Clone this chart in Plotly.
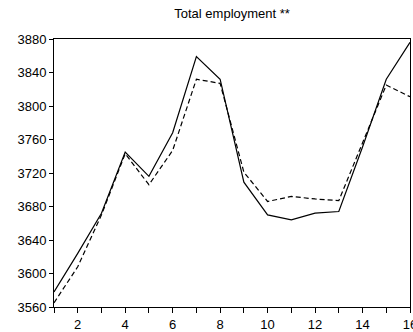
import plotly.graph_objects as go

# observation index
periods = list(range(1, 17))

# actual total employment (solid)
actual = [3578, 3624, 3672, 3745, 3716, 3768, 3859, 3832,
          3709, 3670, 3664, 3672, 3674, 3751, 3832, 3876]

# fitted / forecast total employment (dashed)
fitted = [3565, 3608, 3670, 3743, 3706, 3747, 3832, 3827,
          3721, 3686, 3692, 3689, 3687, 3756, 3825, 3811]

y_ticks = [3560, 3600, 3640, 3680, 3720, 3760, 3800, 3840, 3880]
x_ticks = [2, 4, 6, 8, 10, 12, 14, 16]

fig = go.Figure()

fig.add_trace(go.Scatter(
    x=periods, y=actual, mode="lines",
    line=dict(color="black", width=1.2),
    showlegend=False,
))
fig.add_trace(go.Scatter(
    x=periods, y=fitted, mode="lines",
    line=dict(color="black", width=1.2, dash="5px,3px"),
    showlegend=False,
))

axis_font = dict(family="Liberation Sans, Arial", size=13, color="black")

fig.update_layout(
    width=413, height=332,
    margin=dict(l=54, r=3, t=39, b=25),
    paper_bgcolor="white",
    plot_bgcolor="white",
    title=dict(
        text="Total employment **",
        x=0.562, xanchor="center",
        y=0.958, yanchor="middle",
        font=dict(family="Liberation Sans, Arial", size=13, color="black"),
    ),
)

fig.update_xaxes(
    range=[1, 16],
    tickmode="array", tickvals=x_ticks,
    ticks="outside", ticklen=5, tickwidth=1, tickcolor="black",
    minor=dict(ticks="outside", ticklen=5, dtick=1, tick0=1, tickcolor="black", showgrid=False),
    showgrid=False, zeroline=False,
    showline=True, linecolor="black", linewidth=1, mirror=True,
    tickfont=axis_font,
    ticklabeloverflow="allow",
    automargin=False,
)
fig.update_yaxes(
    range=[3560, 3880],
    tickmode="array", tickvals=y_ticks,
    ticks="outside", ticklen=4, tickwidth=1, tickcolor="black",
    showgrid=False, zeroline=False,
    showline=True, linecolor="black", linewidth=1, mirror=True,
    tickfont=axis_font,
    automargin=False,
)

# drop the browser's default body margin so the figure sits at the page corner
fig.write_html(
    "out.html",
    config={"displayModeBar": False},
    post_script="document.body.style.margin='0';document.body.style.overflow='hidden';",
)
